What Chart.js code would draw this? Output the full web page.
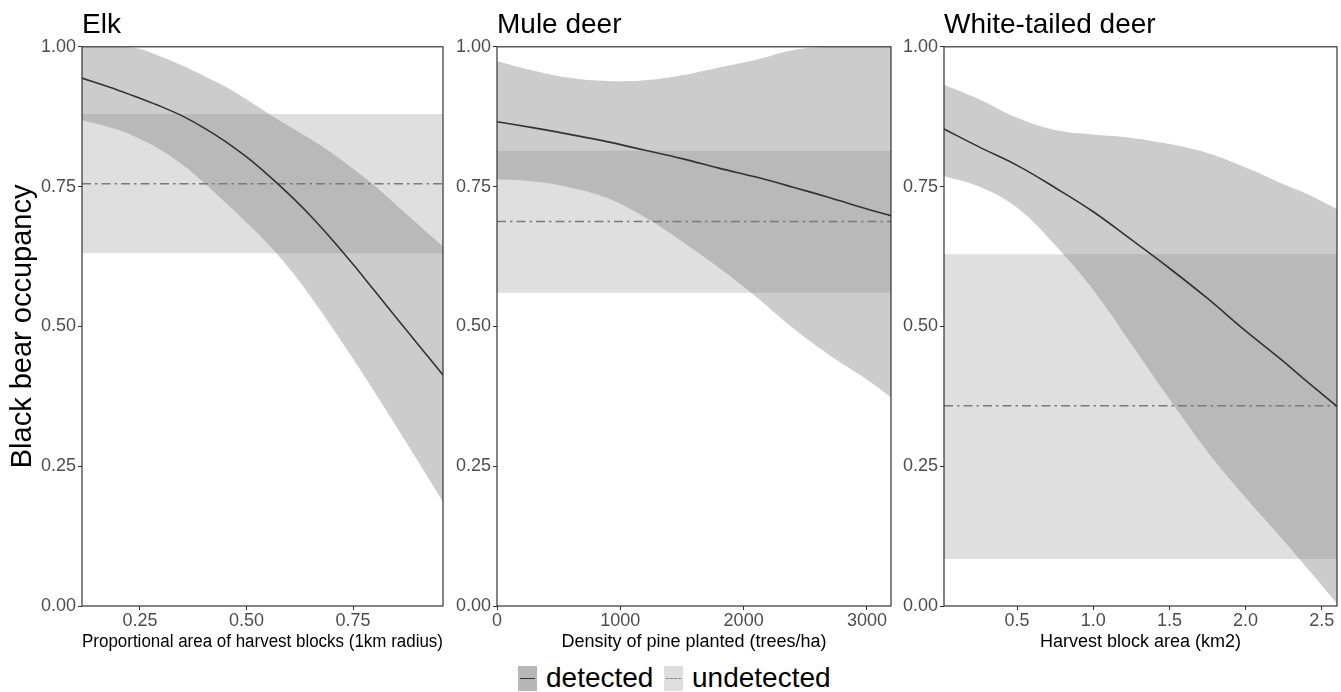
<!DOCTYPE html>
<html>
<head>
<meta charset="utf-8">
<title>Black bear occupancy</title>
<script src="https://cdn.jsdelivr.net/npm/chart.js@4.4.1/dist/chart.umd.min.js"></script>
<style>
  body { margin: 0; background: #fff; width: 1341px; height: 692px; position: relative; overflow: hidden;
         font-family: "Liberation Sans", Arial, sans-serif; }
  canvas { position: absolute; top: 0; }
  .key { position: absolute; top: 666px; width: 19px; height: 25px; }
  .key i { position: absolute; left: 2px; right: 2px; top: 12px; height: 0; }
  .lbl { position: absolute; top: 662px; font-size: 28px; line-height: 32px; color: #000; }
</style>
</head>
<body>
<canvas id="elk" width="446" height="656" style="left:0px"></canvas>
<canvas id="mule" width="444" height="656" style="left:450px"></canvas>
<canvas id="white" width="444" height="656" style="left:897px"></canvas>

<div class="key" style="left:518px;background:#b7b7b7"><i style="border-top:1.5px solid #333"></i></div>
<div class="lbl" style="left:546px">detected</div>
<div class="key" style="left:664px;background:#dedede"><i style="border-top:1.5px dashed #888"></i></div>
<div class="lbl" style="left:692px">undetected</div>

<script>
// ---- data ----
const yTicks = [0, 0.25, 0.5, 0.75, 1];

// Elk
const elkX    = [0.114, 0.2, 0.25, 0.3, 0.35, 0.4, 0.45, 0.5, 0.55, 0.6, 0.65, 0.7, 0.75, 0.8, 0.85, 0.9, 0.961];
const elkFit  = [0.944, 0.922, 0.908, 0.893, 0.876, 0.855, 0.831, 0.803, 0.771, 0.736, 0.698, 0.656, 0.611, 0.564, 0.517, 0.470, 0.413];
const elkLow  = [0.869, 0.851, 0.835, 0.815, 0.789, 0.757, 0.722, 0.686, 0.648, 0.604, 0.554, 0.499, 0.442, 0.383, 0.323, 0.262, 0.186];
const elkHigh = [1.000, 1.000, 0.996, 0.982, 0.966, 0.948, 0.929, 0.906, 0.881, 0.858, 0.835, 0.810, 0.782, 0.752, 0.718, 0.684, 0.643];
const elkTicks = [0.25, 0.5, 0.75];

// Mule deer
const muleX    = [0, 300, 600, 900, 1200, 1500, 1800, 2100, 2400, 2700, 3000, 3195];
const muleFit  = [0.866, 0.855, 0.843, 0.830, 0.815, 0.800, 0.783, 0.767, 0.749, 0.730, 0.710, 0.698];
const muleLow  = [0.763, 0.759, 0.748, 0.729, 0.695, 0.652, 0.605, 0.553, 0.497, 0.448, 0.405, 0.373];
const muleHigh = [0.974, 0.957, 0.944, 0.939, 0.940, 0.949, 0.963, 0.977, 0.994, 1.000, 1.000, 1.000];
const muleTicks = [0, 1000, 2000, 3000];

// White-tailed deer
const whiteX    = [0.02, 0.25, 0.5, 0.75, 1.0, 1.25, 1.5, 1.75, 2.0, 2.25, 2.4, 2.6];
const whiteFit  = [0.853, 0.821, 0.788, 0.748, 0.705, 0.655, 0.604, 0.550, 0.492, 0.437, 0.402, 0.357];
const whiteLow  = [0.769, 0.750, 0.712, 0.645, 0.565, 0.468, 0.370, 0.276, 0.194, 0.117, 0.069, 0.005];
const whiteHigh = [0.932, 0.906, 0.873, 0.851, 0.843, 0.837, 0.826, 0.810, 0.784, 0.754, 0.737, 0.710];
const whiteTicks = [0.5, 1.0, 1.5, 2.0, 2.5];

// undetected: constant occupancy + interval, one per panel (elk, mule, white)
const undetMean = [0.755, 0.6875, 0.358];
const undetLow  = [0.631, 0.560, 0.084];
const undetHigh = [0.880, 0.814, 0.629];

const panelTitles = ["Elk", "Mule deer", "White-tailed deer"];
const xTitles = ["Proportional area of harvest blocks (1km radius)", "Density of pine planted (trees/ha)", "Harvest block area (km2)"];

// ---- drawing ----
Chart.defaults.font.family = "'Liberation Sans', Arial, sans-serif";

// full frame round the panel, drawn above the ribbons
const boxPlugin = {
  id: "panelBox",
  afterDatasetsDraw(chart) {
    const a = chart.chartArea;
    const ctx = chart.ctx;
    ctx.save();
    ctx.strokeStyle = "#333";
    ctx.lineWidth = 1.2;
    ctx.strokeRect(a.left, a.top, a.right - a.left, a.bottom - a.top);
    ctx.restore();
  }
};

function pts(xs, ys) {
  return xs.map((x, i) => ({ x: x, y: ys[i] }));
}

function makePanel(id, i, xs, fit, lo, hi, ticks, fmt, yWidth, padRight) {
  const xMin = xs[0], xMax = xs[xs.length - 1];
  new Chart(document.getElementById(id), {
    type: "line",
    data: {
      datasets: [
        { label: "detected", data: pts(xs, fit), borderColor: "#333", borderWidth: 1.6,
          pointRadius: 0, tension: 0.4, fill: false },
        { label: "undetected", data: [{ x: xMin, y: undetMean[i] }, { x: xMax, y: undetMean[i] }],
          borderColor: "#7a7a7a", borderWidth: 1.6, borderDash: [9, 4, 2.5, 4], pointRadius: 0, fill: false },
        { label: "det low", data: pts(xs, lo), borderWidth: 0, pointRadius: 0,
          tension: 0.4, fill: false },
        { label: "det high", data: pts(xs, hi), borderWidth: 0, pointRadius: 0,
          tension: 0.4, fill: "-1", backgroundColor: "rgba(127,127,127,0.4)" },
        { label: "und low", data: [{ x: xMin, y: undetLow[i] }, { x: xMax, y: undetLow[i] }],
          borderWidth: 0, pointRadius: 0, fill: false },
        { label: "und high", data: [{ x: xMin, y: undetHigh[i] }, { x: xMax, y: undetHigh[i] }],
          borderWidth: 0, pointRadius: 0, fill: "-1", backgroundColor: "rgba(127,127,127,0.25)" }
      ]
    },
    options: {
      responsive: false,
      animation: false,
      layout: { padding: { left: 0, right: padRight, top: 0, bottom: 0 } },
      plugins: {
        legend: { display: false },
        tooltip: { enabled: false },
        title: {
          display: true, text: panelTitles[i], align: "start", fullSize: false, color: "#000",
          font: { size: 28, weight: "normal", lineHeight: 1.1 },
          padding: { top: 10, bottom: 6 }
        }
      },
      scales: {
        x: {
          type: "linear", min: xMin, max: xMax,
          afterBuildTicks: (axis) => { axis.ticks = ticks.map(v => ({ value: v })); },
          afterFit: (axis) => { axis.height = 50; },
          border: { display: false },
          grid: { drawOnChartArea: false, drawTicks: true, tickLength: 4, color: "#333" },
          ticks: { color: "#4d4d4d", font: { size: 18 }, padding: 0, maxRotation: 0,
                   callback: (v) => fmt(v) },
          title: { display: true, text: xTitles[i], color: "#000",
                   font: { size: 18 }, padding: { top: 0, bottom: 3 } }
        },
        y: {
          type: "linear", min: 0, max: 1,
          afterBuildTicks: (axis) => { axis.ticks = yTicks.map(v => ({ value: v })); },
          afterFit: (axis) => { axis.width = yWidth; },
          border: { display: false },
          grid: { drawOnChartArea: false, drawTicks: true, tickLength: 4, color: "#333" },
          ticks: { color: "#4d4d4d", font: { size: 18 }, padding: 2,
                   callback: (v) => v.toFixed(2) },
          title: { display: i === 0, text: "Black bear occupancy", color: "#000",
                   font: { size: 29 }, padding: { top: 6, bottom: 0 } }
        }
      }
    },
    plugins: [boxPlugin]
  });
}

makePanel("elk", 0, elkX, elkFit, elkLow, elkHigh, elkTicks, v => v.toFixed(2), 82, 3);
makePanel("mule", 1, muleX, muleFit, muleLow, muleHigh, muleTicks, v => String(v), 47, 3);
makePanel("white", 2, whiteX, whiteFit, whiteLow, whiteHigh, whiteTicks, v => v.toFixed(1), 47, 4);
</script>
</body>
</html>
